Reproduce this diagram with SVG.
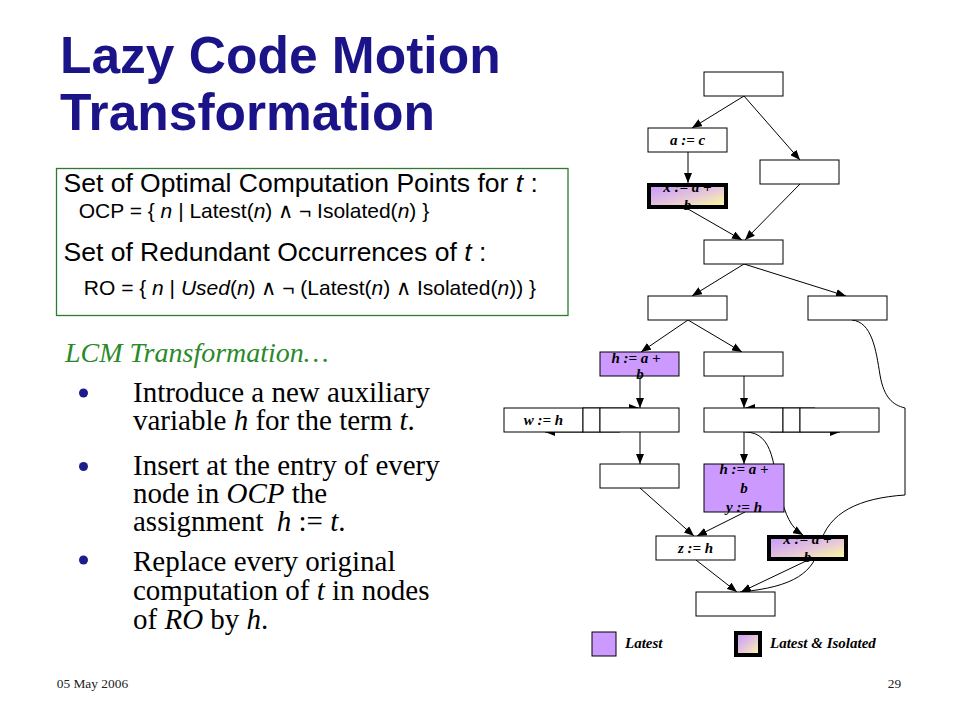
<svg xmlns="http://www.w3.org/2000/svg" width="960" height="720" viewBox="0 0 960 720">
<style>
.n{fill:#fff;stroke:#000;stroke-width:1}
.p{fill:#cc99ff;stroke:#000;stroke-width:1}
.tb{fill:none;stroke:#000;stroke-width:4}
.t{font-family:"Liberation Serif","Times New Roman",serif;font-style:italic;font-weight:bold;font-size:15px;text-anchor:middle;fill:#000}
.lg{font-family:"Liberation Serif","Times New Roman",serif;font-style:italic;font-weight:bold;font-size:15px;fill:#000}
.e{fill:none;stroke:#000;stroke-width:1;marker-end:url(#ah)}
.title{font-family:"Liberation Sans",Arial,sans-serif;font-weight:bold;font-size:51.5px;fill:#1a1488}
.big{font-family:"Liberation Sans",Arial,sans-serif;font-size:26.5px;fill:#000}
.sm{font-family:"Liberation Sans",Arial,sans-serif;font-size:21px;fill:#000}
.bl{font-family:"Liberation Serif","Times New Roman",serif;font-size:29px;fill:#000}
.i{font-style:italic}
.foot{font-family:"Liberation Serif","Times New Roman",serif;font-size:13.4px;fill:#222}
</style>
<defs>
<marker id="ah" viewBox="0 0 10 8" refX="10" refY="4" markerWidth="10" markerHeight="8" orient="auto" markerUnits="userSpaceOnUse">
<path d="M0,0 L10,4 L0,8 z" fill="#000"/>
</marker>
<linearGradient id="g" x1="0" y1="0" x2="1" y2="1">
<stop offset="0" stop-color="#c496ff"/>
<stop offset="0.55" stop-color="#e6c8d8"/>
<stop offset="1" stop-color="#ffff99"/>
</linearGradient>
</defs>
<rect width="960" height="720" fill="#fff"/>

<g id="title">
<text class="title" x="60" y="73">Lazy Code Motion</text>
<text class="title" x="60" y="130">Transformation</text>
</g>

<g id="defs-box">
<rect x="56.5" y="168.5" width="511.5" height="147" fill="#fff" stroke="#2e7a2e" stroke-width="1.3"/>
<text class="big" x="63.5" y="192">Set of Optimal Computation Points for <tspan class="i">t</tspan> :</text>
<text class="sm" x="78.7" y="217.5">OCP = { <tspan class="i">n</tspan> | Latest(<tspan class="i">n</tspan>) ∧ ¬ Isolated(<tspan class="i">n</tspan>) }</text>
<text class="big" x="63.5" y="260.5">Set of Redundant Occurrences of <tspan class="i">t</tspan> :</text>
<text class="sm" x="83.8" y="295">RO = { <tspan class="i">n</tspan> | <tspan class="i">Used</tspan>(<tspan class="i">n</tspan>) ∧ ¬ (Latest(<tspan class="i">n</tspan>) ∧ Isolated(<tspan class="i">n</tspan>)) }</text>
</g>

<g id="lcm">
<text x="65" y="362" font-family="Liberation Serif, Times New Roman, serif" font-style="italic" font-size="28" fill="#2a8a2a">LCM Transformation…</text>
<circle cx="83.5" cy="393" r="4.5" fill="#1c1c8c"/>
<circle cx="83.5" cy="466.5" r="4.5" fill="#1c1c8c"/>
<circle cx="83.5" cy="560" r="4.5" fill="#1c1c8c"/>
<text class="bl" x="133" y="402">Introduce a new auxiliary</text>
<text class="bl" x="133" y="430">variable <tspan class="i">h</tspan> for the term <tspan class="i">t</tspan>.</text>
<text class="bl" x="133" y="474.5">Insert at the entry of every</text>
<text class="bl" x="133" y="503">node in <tspan class="i">OCP</tspan> the</text>
<text class="bl" x="133" y="531">assignment <tspan class="i" dx="6">h</tspan> := <tspan class="i">t</tspan>.</text>
<text class="bl" x="133" y="571">Replace every original</text>
<text class="bl" x="133" y="600">computation of <tspan class="i">t</tspan> in nodes</text>
<text class="bl" x="133" y="628.5">of <tspan class="i">RO</tspan> by <tspan class="i">h</tspan>.</text>
</g>

<g id="connectors">
<line class="e" x1="744" y1="96" x2="692" y2="128"/>
<line class="e" x1="744" y1="96" x2="800" y2="160"/>
<line class="e" x1="688" y1="152" x2="688" y2="183"/>
<line class="e" x1="688" y1="209" x2="742" y2="240"/>
<line class="e" x1="800" y1="184" x2="745" y2="240"/>
<line class="e" x1="744" y1="264" x2="692" y2="296"/>
<line class="e" x1="744" y1="264" x2="846" y2="296"/>
<line class="e" x1="688" y1="320" x2="641" y2="352"/>
<line class="e" x1="688" y1="320" x2="742" y2="352"/>
<line class="e" x1="640" y1="376" x2="640" y2="408"/>
<line class="e" x1="744" y1="376" x2="744" y2="408"/>
<line class="e" x1="583" y1="408" x2="639" y2="408"/>
<line class="e" x1="620" y1="432" x2="545" y2="432"/>
<line class="e" x1="815" y1="408" x2="745" y2="408"/>
<line class="e" x1="770" y1="432" x2="840" y2="432"/>
<line class="e" x1="640" y1="432" x2="640" y2="464"/>
<line class="e" x1="744" y1="432" x2="744" y2="464"/>
<path class="e" d="M745,432 C775,432 773,470 780,495 C786,515 790,527 803,535"/>
<line class="e" x1="640" y1="488" x2="694" y2="536"/>
<line class="e" x1="745" y1="512" x2="697" y2="536"/>
<line class="e" x1="696" y1="560" x2="737" y2="592"/>
<line class="e" x1="806" y1="561" x2="741" y2="592"/>
<path class="e" d="M852,320 C872,322 876,350 880,375 C884,398 893,405 905,408 L905,495 C860,498 828,512 820,545 C814,572 795,587 740,592"/>
</g>

<g id="n-top"><rect class="n" x="704" y="72" width="79" height="24"/></g>
<g id="n-ac"><rect class="n" x="648" y="128" width="79" height="24"/><text class="t" x="687.5" y="145">a := c</text></g>
<g id="n-r1"><rect class="n" x="760" y="160" width="79" height="24"/></g>
<g id="n-x1">
<rect x="649" y="185" width="77" height="22" fill="url(#g)"/>
<text class="t" x="687.5" y="191.5">x := a +</text>
<text class="t" x="687.5" y="210">b</text>
<rect class="tb" x="649" y="185" width="77" height="22"/>
</g>
<g id="n-join"><rect class="n" x="704" y="240" width="79" height="24"/></g>
<g id="n-l2"><rect class="n" x="648" y="296" width="79" height="24"/></g>
<g id="n-r2"><rect class="n" x="808" y="296" width="79" height="24"/></g>
<g id="n-h1"><rect class="p" x="600" y="352" width="79" height="24"/><text class="t" x="636" y="363">h := a +</text><text class="t" x="640" y="379">b</text></g>
<g id="n-b3"><rect class="n" x="704" y="352" width="79" height="24"/></g>
<g id="n-w"><rect class="n" x="504" y="408" width="79" height="24"/><text class="t" x="543.5" y="424.5">w := h</text></g>
<g id="n-s1"><rect class="n" x="583" y="408" width="17" height="24"/></g>
<g id="n-l4"><rect class="n" x="600" y="408" width="79" height="24"/></g>
<g id="n-m4"><rect class="n" x="704" y="408" width="79" height="24"/></g>
<g id="n-s2"><rect class="n" x="783" y="408" width="17" height="24"/></g>
<g id="n-r4"><rect class="n" x="800" y="408" width="79" height="24"/></g>
<g id="n-l5"><rect class="n" x="600" y="464" width="79" height="24"/></g>
<g id="n-h2"><rect class="p" x="704" y="464" width="80" height="48"/><text class="t" x="744" y="473.5">h := a +</text><text class="t" x="744" y="493">b</text><text class="t" x="744" y="512">y := h</text></g>
<g id="n-z"><rect class="n" x="656" y="536" width="79" height="24"/><text class="t" x="695.5" y="552.5">z := h</text></g>
<g id="n-x2">
<rect x="769" y="537" width="77" height="22" fill="url(#g)"/>
<text class="t" x="807.5" y="544">x := a +</text>
<text class="t" x="807.5" y="562">b</text>
<rect class="tb" x="769" y="537" width="77" height="22"/>
</g>
<g id="n-bot"><rect class="n" x="696" y="592" width="79" height="24"/></g>

<g id="legend">
<rect class="p" x="592" y="632" width="24" height="24"/>
<text class="lg" x="625" y="648">Latest</text>
<rect x="736" y="633" width="24" height="22" fill="url(#g)"/>
<rect class="tb" x="736" y="633" width="24" height="22"/>
<text class="lg" x="770" y="648">Latest &amp; Isolated</text>
</g>

<g id="footer">
<text class="foot" x="56.7" y="688">05 May 2006</text>
<text class="foot" x="887.7" y="688">29</text>
</g>
</svg>
